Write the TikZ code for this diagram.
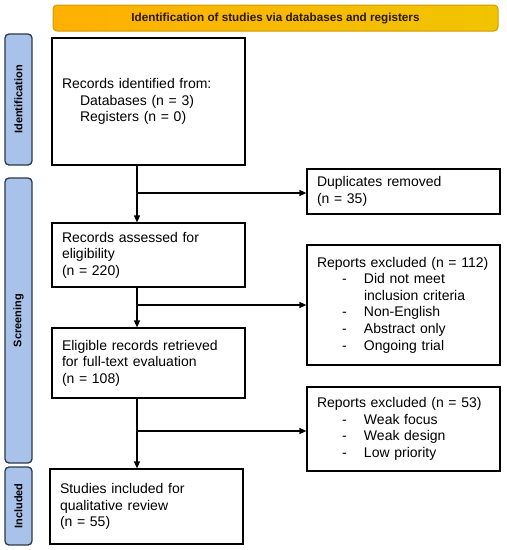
\documentclass[tikz,border=0pt]{standalone}
\usepackage{fontspec}
\setmainfont{Liberation Sans}
\usetikzlibrary{arrows.meta}
\definecolor{bannerL}{HTML}{FFB000}
\definecolor{bannerR}{HTML}{F0C400}
\definecolor{bannerB}{HTML}{D09A00}
\definecolor{sidefill}{HTML}{A8C2EA}
\definecolor{sideline}{HTML}{2B3A48}
\definecolor{bannertext}{HTML}{2A1800}
\tikzset{
  box/.style={draw=black, line width=1.2pt, fill=white, minimum width=193pt,
    inner xsep=10pt, inner ysep=0pt, text width=173pt, align=left,
    font=\fontsize{14}{16.6}\selectfont},
  sidebar/.style={draw=sideline, line width=1.3pt, fill=sidefill, rounded corners=4pt},
  sidelabel/.style={rotate=90, font=\fontsize{11}{13}\selectfont\bfseries, text=black},
  flow/.style={line width=1.3pt, -{Triangle[length=7pt,width=6pt]}},
  plain/.style={line width=1.3pt},
}
\newcommand{\dashitem}[1]{\hspace*{25pt}\makebox[22pt][l]{-}#1}
\newcommand{\contitem}[1]{\hspace*{47pt}#1}
\begin{document}
\begin{tikzpicture}[x=1pt,y=-1pt]
\useasboundingbox (0,0) rectangle (507,550);
% banner
\draw[draw=bannerB, line width=1pt, rounded corners=4pt, left color=bannerL, right color=bannerR] (53,5) rectangle (498,31);
\node[font=\fontsize{11.7}{14}\selectfont\bfseries, text=bannertext] (banner) at (275.5,18) {Identification of studies via databases and registers};
% side bars
\draw[sidebar] (5,34) rectangle (32,165);
\node[sidelabel] (lid) at (18.5,99.5) {Identification};
\draw[sidebar] (5,178) rectangle (32,463);
\node[sidelabel] (lscr) at (18.5,320.5) {Screening};
\draw[sidebar] (5,467) rectangle (32,545);
\node[sidelabel] (linc) at (18.5,506) {Included};
% boxes
\node[box, minimum height=127pt] (b1) at (148.5,101.5) {Records identified from:\\\hspace*{18pt}Databases (n = 3)\\\hspace*{18pt}Registers (n = 0)};
\node[box, minimum height=45pt] (dup) at (403.5,191.5) {Duplicates removed\\(n = 35)};
\node[box, minimum height=64pt] (ass) at (148.5,255) {Records assessed for\\eligibility\\(n = 220)};
\node[box, minimum height=120pt] (r112) at (403.5,305) {Reports excluded (n = 112)\\\dashitem{Did not meet}\\\contitem{inclusion criteria}\\\dashitem{Non-English}\\\dashitem{Abstract only}\\\dashitem{Ongoing trial}};
\node[box, minimum height=70pt] (elig) at (148.5,363) {Eligible records retrieved\\for full-text evaluation\\(n = 108)};
\node[box, minimum height=84pt] (r53) at (403.5,429) {Reports excluded (n = 53)\\\dashitem{Weak focus}\\\dashitem{Weak design}\\\dashitem{Low priority}};
\node[box, minimum height=75pt] (inc) at (146.5,506.5) {Studies included for\\qualitative review\\(n = 55)};
% connectors
\coordinate (v) at (137,0);
\coordinate (j1) at (137,193);
\coordinate (j2) at (137,305);
\coordinate (j3) at (137,431);
\draw[flow] (b1.south -| v) -- (ass.north -| v);
\draw[flow] (j1) -- (j1 -| dup.west);
\draw[flow] (ass.south -| v) -- (elig.north -| v);
\draw[flow] (j2) -- (j2 -| r112.west);
\draw[flow] (elig.south -| v) -- (inc.north -| v);
\draw[flow] (j3) -- (j3 -| r53.west);
\end{tikzpicture}
\end{document}
